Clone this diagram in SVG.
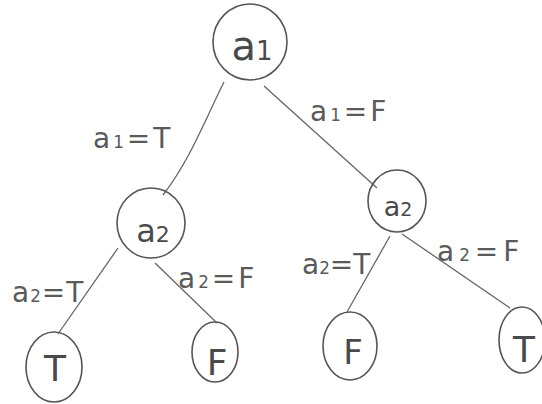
<svg xmlns="http://www.w3.org/2000/svg" width="542" height="404" viewBox="0 0 542 404">
<style>
.n{fill:none;stroke:#555;stroke-width:1.6}
.e{fill:none;stroke:#666;stroke-width:1.3}
.t{font-family:"DejaVu Sans","Liberation Sans",sans-serif;fill:#4a4a4a;text-anchor:middle}
.l{font-family:"DejaVu Sans","Liberation Sans",sans-serif;fill:#5a5a5a;font-size:28px}
.s{font-size:60%}
</style>
<rect width="542" height="404" fill="#fff"/>
<g id="connectors">
<path class="e" d="M224,82 C205,120 190,160 163,195"/>
<path class="e" d="M264,86 L377,188"/>
<path class="e" d="M118,248 L58,334"/>
<path class="e" d="M155,263 L217,323"/>
<path class="e" d="M390,236 L347,312"/>
<path class="e" d="M402,234 L510,308"/>
</g>
<g id="labels">
<text class="l" x="93" y="148" font-size="30" letter-spacing="3">a<tspan class="s">1</tspan>=T</text>
<text class="l" x="310" y="121" font-size="27" letter-spacing="3">a<tspan class="s">1</tspan>=F</text>
<text class="l" x="12" y="302" font-size="23" letter-spacing="1">a<tspan class="s">2</tspan>=T</text>
<text class="l" x="178" y="288" font-size="23" letter-spacing="3">a<tspan class="s">2</tspan>=F</text>
<text class="l" x="302" y="274" font-size="22">a<tspan class="s">2</tspan>=T</text>
<text class="l" x="437" y="261" font-size="24" letter-spacing="5">a<tspan class="s">2</tspan>=F</text>
</g>
<g id="root">
<ellipse class="n" cx="250" cy="42" rx="37" ry="38"/>
<text class="t" x="252" y="60" font-size="40">a<tspan font-size="26">1</tspan></text>
</g>
<g id="a2left">
<ellipse class="n" cx="151" cy="223" rx="34" ry="35"/>
<text class="t" x="153" y="242" font-size="32">a<tspan font-size="22">2</tspan></text>
</g>
<g id="a2right">
<ellipse class="n" cx="397" cy="201" rx="29" ry="31"/>
<text class="t" x="398" y="216" font-size="27">a<tspan font-size="19">2</tspan></text>
</g>
<g id="leafT1">
<ellipse class="n" cx="54" cy="367" rx="28" ry="35"/>
<text class="t" x="55" y="381" font-size="36">T</text>
</g>
<g id="leafF1">
<ellipse class="n" cx="215" cy="352" rx="23" ry="30"/>
<text class="t" x="217" y="375" font-size="36">F</text>
</g>
<g id="leafF2">
<ellipse class="n" cx="350" cy="346" rx="27" ry="34"/>
<text class="t" x="353" y="364" font-size="34">F</text>
</g>
<g id="leafT2">
<ellipse class="n" cx="522" cy="340" rx="23" ry="33"/>
<text class="t" x="524" y="362" font-size="36">T</text>
</g>
</svg>
